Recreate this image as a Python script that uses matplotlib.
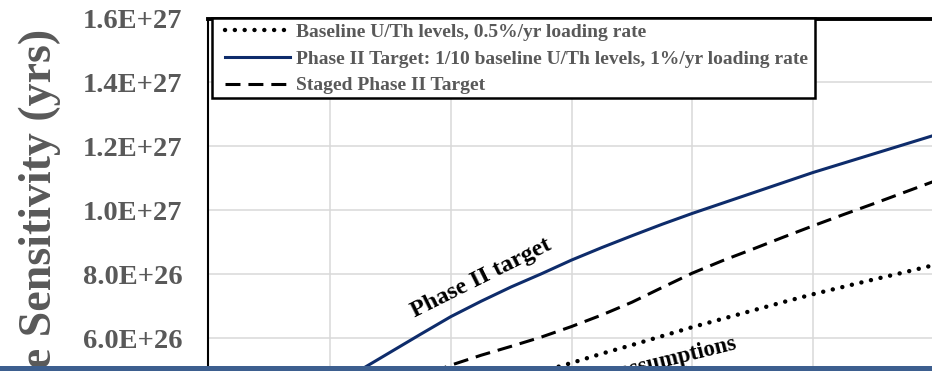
import numpy as np
import matplotlib
matplotlib.use("Agg")
import matplotlib.pyplot as plt
from matplotlib.patches import Rectangle
from matplotlib.ticker import FuncFormatter

nan = np.nan

# Sensitivity curves (years of running vs. half-life sensitivity, yrs)
years = [1.0, 1.25, 1.5, 1.75, 2.0, 2.25, 2.5, 2.75, 3.0, 3.25, 3.5, 3.75,
         4.0, 4.25, 4.5, 4.75, 5.0, 5.25, 5.5, 5.75, 6.0, 6.25, 6.5]
phase2_target = [0.440e27, 0.500e27, 0.556e27, 0.612e27, 0.667e27, 0.715e27,
                 0.760e27, 0.801e27, 0.844e27, 0.883e27, 0.920e27, 0.956e27,
                 0.990e27, 1.022e27, 1.054e27, 1.086e27, 1.118e27, 1.147e27,
                 1.176e27, 1.205e27, 1.234e27, 1.262e27, 1.290e27]
staged_target = [nan, nan, nan, 0.480e27, 0.515e27, 0.546e27,
                 0.574e27, 0.603e27, 0.636e27, 0.672e27, 0.712e27, 0.758e27,
                 0.803e27, 0.842e27, 0.878e27, 0.915e27, 0.951e27, 0.986e27,
                 1.020e27, 1.055e27, 1.090e27, 1.120e27, 1.150e27]
baseline = [nan, nan, nan, nan, nan, nan,
            0.470e27, 0.495e27, 0.522e27, 0.551e27, 0.578e27, 0.606e27,
            0.634e27, 0.660e27, 0.686e27, 0.712e27, 0.737e27, 0.760e27,
            0.783e27, 0.805e27, 0.828e27, 0.849e27, 0.870e27]

series_labels = [
    "Baseline U/Th levels, 0.5%/yr loading rate",
    "Phase II Target: 1/10 baseline U/Th levels, 1%/yr loading rate",
    "Staged Phase II Target",
]
y_ticks = [0.0, 0.2e27, 0.4e27, 0.6e27, 0.8e27, 1.0e27, 1.2e27, 1.4e27, 1.6e27]
x_ticks = [1, 2, 3, 4, 5, 6]

SERIF = "Liberation Serif"
GRAY = "#595959"
NAVY = "#0E2C6B"

W_PX, H_PX = 932, 371
fig = plt.figure(figsize=(W_PX / 100, H_PX / 100), dpi=100)

# plot area geometry in pixels
px_per_x = 120.7
x0_px = 207.5
xmin, xmax = -2.0 / px_per_x, 7.0
top_px = 18.5
px_per_y = 319.5 / 1e27
ymin, ymax = 0.0, 1.6e27
bottom_px = top_px + (ymax - ymin) * px_per_y
right_px = x0_px + (xmax - xmin) * px_per_x

ax = fig.add_axes([x0_px / W_PX, 1 - bottom_px / H_PX,
                   (right_px - x0_px) / W_PX, (bottom_px - top_px) / H_PX])
ax.set_xlim(xmin, xmax)
ax.set_ylim(ymin, ymax)

ax.plot(years, baseline, color="black", lw=3.2,
        linestyle=(0, (0.01, 2.2)), dash_capstyle="round",
        label=series_labels[0], zorder=3)
ax.plot(years, phase2_target, color=NAVY, lw=2.2, label=series_labels[1], zorder=3)
ax.plot(years, staged_target, color="black", lw=2.2,
        linestyle=(0, (4.9, 2.6)), label=series_labels[2], zorder=3)

ax.set_yticks(y_ticks)
ax.set_xticks(x_ticks)
ax.yaxis.set_major_formatter(FuncFormatter(lambda v, p: f"{v:.1E}"))
ax.tick_params(axis="y", length=0, pad=18, labelsize=20.5, labelcolor=GRAY)
ax.tick_params(axis="x", length=0, labelbottom=False)
for lab in ax.get_yticklabels():
    lab.set_fontfamily(SERIF)
    lab.set_fontweight("bold")

ax.grid(True, color="#D9D9D9", lw=1.1)
ax.set_axisbelow(True)
ax.spines["top"].set_linewidth(2.8)
ax.spines["left"].set_linewidth(1.5)
ax.spines["right"].set_visible(False)
ax.spines["bottom"].set_visible(False)

# legend: boxed panel in the upper-left corner of the plot area
legend_box = Rectangle((211.5 / W_PX, 1 - 97.5 / H_PX), (814.5 - 211.5) / W_PX,
                       (97.5 - 18) / H_PX, transform=fig.transFigure,
                       facecolor="white", edgecolor="black", lw=1.8,
                       clip_on=False, zorder=4.5)
ax.add_patch(legend_box)
leg = ax.legend(loc="upper left",
                bbox_to_anchor=(225 / W_PX, 1 - 23 / H_PX),
                bbox_transform=fig.transFigure, borderaxespad=0, borderpad=0,
                prop={"family": SERIF, "weight": "bold", "size": 14},
                handlelength=3.35, handletextpad=0.31, labelspacing=0.48,
                frameon=False)
leg.set_zorder(5)
for t in leg.get_texts():
    t.set_color(GRAY)

# curve annotations
ax.text(1.703, 0.6626e27, "Phase II target", rotation=26.5,
        rotation_mode="anchor", ha="left", va="baseline",
        fontfamily=SERIF, fontweight="bold", fontsize=17.5, color="black", zorder=4)
ax.text((737 - x0_px) / px_per_x + xmin, ymax - (349 - top_px) / px_per_y,
        "Baseline assumptions", rotation=14,
        rotation_mode="anchor", ha="right", va="baseline",
        fontfamily=SERIF, fontweight="bold", fontsize=16.5, color="black", zorder=4)

fig.text(51 / W_PX, 1 - 29 / H_PX, "Half-life Sensitivity (yrs)", rotation=90,
         rotation_mode="anchor", ha="right", va="baseline",
         fontfamily=SERIF, fontweight="bold", fontsize=33, color=GRAY)

# bottom band
fig.add_artist(Rectangle((0, 0), 1, 5.5 / H_PX, transform=fig.transFigure,
                         facecolor="#3D5F8F", edgecolor="none", zorder=10))

fig.savefig("out.png", dpi=100)
